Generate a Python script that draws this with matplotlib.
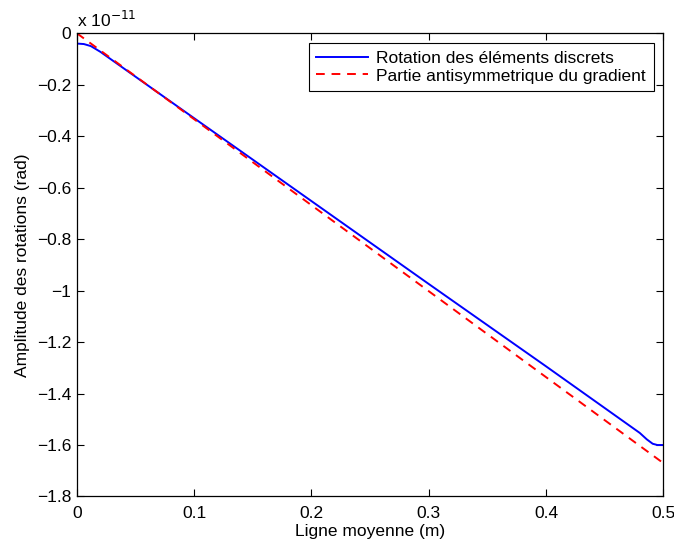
import numpy as np
import matplotlib.pyplot as plt

plt.rcParams['font.family'] = ['Liberation Sans', 'DejaVu Sans']
plt.rcParams['axes.unicode_minus'] = True

# values in units of 1e-11 rad
x_rot = [0, 0.006, 0.012, 0.02, 0.1, 0.2, 0.3, 0.4, 0.48, 0.486, 0.491, 0.495, 0.5]
y_rot = [-0.040, -0.042, -0.050, -0.072, -0.330, -0.652, -0.974, -1.294, -1.553, -1.578, -1.595, -1.600, -1.600]

x_grad = [0, 0.5]
y_grad = [0, -1.67]

xticks = [0, 0.1, 0.2, 0.3, 0.4, 0.5]
yticks = [0, -0.2, -0.4, -0.6, -0.8, -1, -1.2, -1.4, -1.6, -1.8]

fs = 12.5

fig = plt.figure(figsize=(6.74, 5.45), dpi=100)
ax = fig.add_axes([0.114, 0.089, 0.870, 0.850])

ax.plot(x_rot, y_rot, color='#0000ff', lw=1.4, label='Rotation des éléments discrets')
ax.plot(x_grad, y_grad, color='#ff0000', lw=1.4, linestyle=(0, (4.5, 3.5)),
        label='Partie antisymmetrique du gradient')

ax.set_xlim(0, 0.5)
ax.set_ylim(-1.8, 0)
ax.set_xticks(xticks)
ax.set_xticklabels(['0', '0.1', '0.2', '0.3', '0.4', '0.5'])
ax.set_yticks(yticks)
ax.set_yticklabels(['0' if v == 0 else ('\u2212%g' % abs(v)) for v in yticks])
ax.tick_params(direction='in', top=True, right=True, length=5, width=0.8,
               labelsize=fs)
ax.tick_params(axis='x', pad=7)
ax.tick_params(axis='y', pad=4)
for s in ax.spines.values():
    s.set_linewidth(0.9)

ax.set_xlabel('Ligne moyenne (m)', fontsize=fs, labelpad=2)
ax.set_ylabel('Amplitude des rotations (rad)', fontsize=fs, labelpad=5)
ax.text(0, 1.008, r'x 10$^{-11}$', transform=ax.transAxes, fontsize=fs,
        ha='left', va='bottom')

leg = ax.legend(loc='upper right', fontsize=fs, fancybox=False, framealpha=1,
                edgecolor='black', borderaxespad=0.55, handlelength=3.0,
                borderpad=0.45, labelspacing=0.15, handletextpad=0.45)
leg.get_frame().set_linewidth(0.8)

fig.savefig('out.png', dpi=100)
